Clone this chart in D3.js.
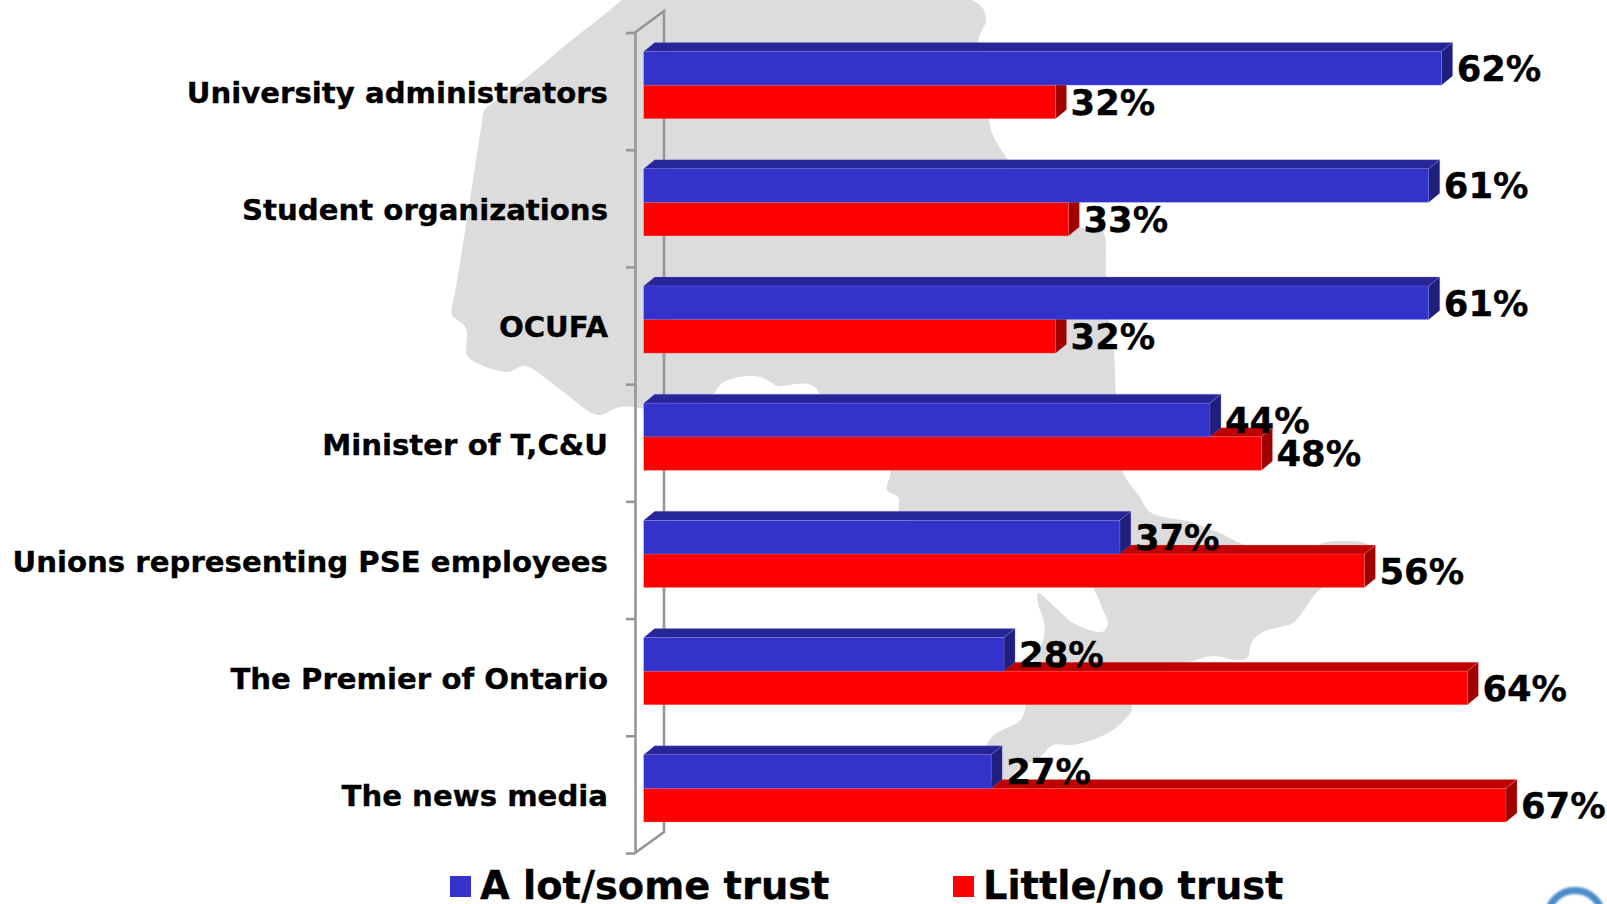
<!DOCTYPE html>
<html>
<head>
<meta charset="utf-8">
<script src="https://cdnjs.cloudflare.com/ajax/libs/d3/7.8.5/d3.min.js"></script>
<style>
html,body{margin:0;padding:0;background:#fff;overflow:hidden}
svg{display:block}
text{font-family:"DejaVu Sans",sans-serif;font-weight:bold;fill:#000;stroke:#000;stroke-width:0.35px}
</style>
</head>
<body>
<svg id="chart" width="1607" height="904"></svg>
<script>
const categories = ["University administrators","Student organizations","OCUFA","Minister of T,C&U","Unions representing PSE employees","The Premier of Ontario","The news media"];
const trustValues = [62,61,61,44,37,28,27];
const noTrustValues = [32,33,32,48,56,64,67];
const seriesNames = ["A lot/some trust","Little/no trust"];
const seriesColors = [
  {face:"#3333CC",top:"#262699",side:"#1F1F80",edge:"#9999E6"},
  {face:"#FF0000",top:"#BF0000",side:"#A00000",edge:"#FF9999"}
];
// backdrop silhouette of Ontario (decoration, not data)
const mapOutline = [[622,0],[600,18],[568,43],[530,75],[500,98],[484,111],[482,122],[470,200],[458,275],[455,293],[452,307],[452,315],[466,328],[467,355],[477,363],[507,372],[525,366],[557,387],[590,412],[600,415],[620,407],[640,408],[690,420],[713,395],[722,383],[735,378],[755,376],[767,380],[778,386],[795,384],[808,384],[816,388],[820,395],[860,440],[890,470],[887,490],[898,497],[901,515],[1000,560],[1085,580],[1093,588],[1103,610],[1108,623],[1104,631],[1098,632],[1073,623],[1055,607],[1038,593],[1038,603],[1044,622],[1044,637],[1030,670],[1026,705],[1022,718],[1017,723],[997,733],[987,745],[990,775],[1005,780],[1020,768],[1040,757],[1053,745],[1073,745],[1100,737],[1117,727],[1132,710],[1132,705],[1170,670],[1190,662],[1213,656],[1237,660],[1247,658],[1252,642],[1263,632],[1293,623],[1302,613],[1312,598],[1322,588],[1360,570],[1375,552],[1365,543],[1343,541],[1323,543],[1290,560],[1240,543],[1220,533],[1190,522],[1150,512],[1140,497],[1123,472],[1116,397],[1114,353],[1109,320],[1106,277],[1102,230],[1085,229],[1040,200],[1008,160],[992,133],[989,118],[978,42],[986,20],[982,7],[972,0]];

const svg = d3.select("#chart");
const x = d3.scaleLinear().domain([0,100]).range([643.7,1930.7]);
const yIdx = d3.scaleLinear().domain([0,categories.length]).range([32.5,853]);
const inner = d3.scaleBand().domain([0,1]).range([19.0,86.2]);
const depthX = 11, depthY = 9;

// map
svg.append("path")
  .attr("d", d3.line().curve(d3.curveCatmullRom.alpha(0.5))(mapOutline))
  .attr("fill","#DCDCDC");

// axis with back wall
const axisG = svg.append("g").attr("transform","translate(635,0)");
axisG.call(d3.axisLeft(yIdx).tickValues(d3.range(categories.length+1)).tickSize(9).tickSizeOuter(0).tickFormat(""));
axisG.selectAll("path,line").attr("stroke","#969696").attr("stroke-width",2.6);
svg.append("path")
  .attr("d", d3.line()([[635,yIdx(0)],[664,11],[664,832],[635,yIdx(categories.length)]]))
  .attr("fill","none").attr("stroke","#969696").attr("stroke-width",2.6);

function bar3d(g, val, yTop, yBot, c){
  const x0 = x(0), x1 = x(val);
  const edged = sel => sel.attr("stroke",c.edge).attr("stroke-width",0.6).attr("stroke-opacity",0.45);
  g.append("path").attr("fill",c.top).call(edged)
    .attr("d", d3.line()([[x0,yTop],[x0+depthX,yTop-depthY],[x1+depthX,yTop-depthY],[x1,yTop]]));
  g.append("path").attr("fill",c.side).call(edged)
    .attr("d", d3.line()([[x1,yTop],[x1+depthX,yTop-depthY],[x1+depthX,yBot-depthY],[x1,yBot]]));
  g.append("rect").attr("x",x0).attr("y",yTop).attr("width",x1-x0).attr("height",yBot-yTop)
    .attr("fill",c.face).call(edged);
}

const barsG = svg.append("g");
const seriesValues = [trustValues, noTrustValues];
categories.forEach((cat,i)=>{
  const g = barsG.append("g");
  [1,0].forEach(s=>{
    const yTop = yIdx(i)+inner(s);
    bar3d(g, seriesValues[s][i], yTop, yTop+inner.bandwidth(), seriesColors[s]);
  });
});

// category labels
svg.append("g").selectAll("text").data(categories).join("text")
  .attr("x",608).attr("y",(d,i)=>yIdx(i)+70.5)
  .attr("text-anchor","end").attr("font-size",29.2).text(d=>d);

// value labels
[0,1].forEach(s=>{
  svg.append("g").selectAll("text").data(seriesValues[s]).join("text")
    .attr("x",d=>x(d)+15)
    .attr("y",(d,i)=>yIdx(i)+inner(s)+inner.bandwidth()-4)
    .attr("font-size",35.4).text(d=>d+"%");
});

// legend
const legendSquares = [450,953], legendText = [480,983];
seriesNames.forEach((n,s)=>{
  svg.append("rect").attr("x",legendSquares[s]).attr("y",876).attr("width",21).attr("height",21).attr("fill",seriesColors[s].face);
  svg.append("text").attr("x",legendText[s]).attr("y",899).attr("font-size",38.4).text(n);
});

// corner logo fragment
svg.append("defs").append("filter").attr("id","soft").append("feGaussianBlur").attr("stdDeviation",0.8);
svg.append("circle").attr("cx",1575).attr("cy",918.5).attr("r",28).attr("fill","none")
  .attr("stroke","#4A8BCB").attr("stroke-width",7).attr("filter","url(#soft)");
</script>
</body>
</html>
